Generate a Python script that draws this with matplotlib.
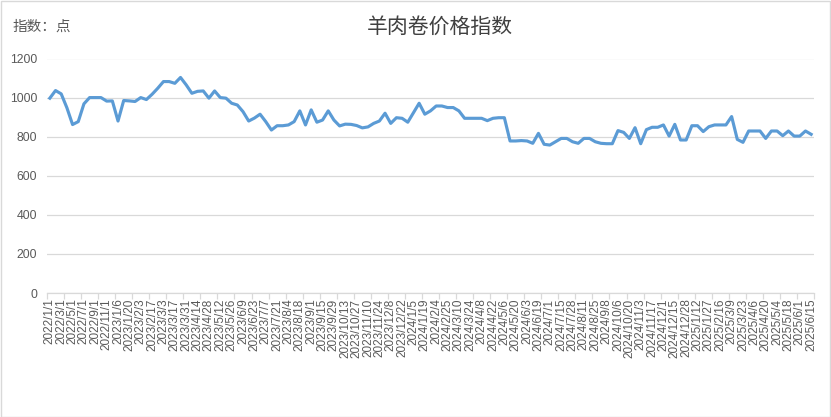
import matplotlib
matplotlib.use('Agg')
import matplotlib.pyplot as plt
from matplotlib.patches import Rectangle
import numpy as np

# Data
index_values = [
    997, 1036, 1019, 948, 862, 877, 968, 1000, 1000, 1000,
    982, 983, 880, 985, 983, 980, 1000, 990, 1017, 1048,
    1082, 1082, 1073, 1103, 1065, 1022, 1032, 1034, 997, 1034,
    1000, 997, 971, 962, 928, 880, 895, 915, 877, 834,
    856, 856, 860, 877, 932, 860, 937, 874, 885, 932,
    885, 855, 864, 863, 857, 845, 850, 868, 880, 920,
    868, 897, 894, 874, 922, 971, 915, 932, 957, 957,
    949, 949, 932, 894, 894, 894, 894, 882, 894, 897,
    897, 778, 778, 780, 778, 766, 817, 761, 757, 774,
    791, 791, 774, 766, 791, 791, 774, 766, 764, 764,
    831, 822, 791, 846, 764, 836, 848, 848, 860, 803,
    863, 783, 783, 856, 856, 826, 851, 860, 860, 860,
    903, 786, 771, 829, 829, 829, 791, 829, 829, 805,
    829, 803, 803, 829, 812,
]

# every second point carries a date label
tick_labels = [
    '2022/1/1', '2022/3/1', '2022/5/1', '2022/7/1', '2022/9/1', '2022/11/1',
    '2023/1/6', '2023/1/20', '2023/2/3', '2023/2/17', '2023/3/3', '2023/3/17',
    '2023/3/31', '2023/4/14', '2023/4/28', '2023/5/12', '2023/5/26', '2023/6/9',
    '2023/6/23', '2023/7/7', '2023/7/21', '2023/8/4', '2023/8/18', '2023/9/1',
    '2023/9/15', '2023/9/29', '2023/10/13', '2023/10/27', '2023/11/10', '2023/11/24',
    '2023/12/8', '2023/12/22', '2024/1/5', '2024/1/19', '2024/2/4', '2024/2/25',
    '2024/3/10', '2024/3/24', '2024/4/8', '2024/4/22', '2024/5/6', '2024/5/20',
    '2024/6/3', '2024/6/19', '2024/7/1', '2024/7/15', '2024/7/28', '2024/8/11',
    '2024/8/25', '2024/9/8', '2024/10/6', '2024/10/20', '2024/11/3', '2024/11/17',
    '2024/12/1', '2024/12/15', '2024/12/28', '2025/1/12', '2025/1/27', '2025/2/16',
    '2025/3/9', '2025/3/23', '2025/4/6', '2025/4/20', '2025/5/4', '2025/5/18',
    '2025/6/1', '2025/6/15',
]

y_ticks = [0, 200, 400, 600, 800, 1000, 1200]

title = '羊肉卷价格指数'
unit_label = '指数：点'

plt.rcParams['font.family'] = ['Liberation Sans', 'DejaVu Sans']
cjk = ['Noto Sans CJK SC', 'DejaVu Sans']

W, H = 831, 417
fig = plt.figure(figsize=(W / 100, H / 100), dpi=100)
fig.patch.set_facecolor('white')

ax = fig.add_axes([47 / W, 1 - 293 / H, (814 - 47) / W, (293 - 58.5) / H])
n = len(index_values)
x = np.arange(n)
ax.plot(x, index_values, color='#5B9BD5', linewidth=2.25, solid_joinstyle='round')

ax.set_xlim(-0.5, n - 0.5)
ax.set_ylim(0, 1200)
ax.set_yticks(y_ticks)
ax.set_yticklabels([str(v) for v in y_ticks])
ax.grid(axis='y', color='#d9d9d9', linewidth=0.9)
ax.set_axisbelow(True)

ax.set_xticks(x[::2])
ax.set_xticklabels(tick_labels, rotation=90, fontsize=8.5, color='#595959')
ax.set_xticks(np.arange(-0.5, n, 3), minor=True)
ax.tick_params(axis='x', which='major', length=0, pad=4)
ax.tick_params(axis='x', which='minor', length=4, color='#d9d9d9', width=0.9)
ax.tick_params(axis='y', length=0, pad=7, labelsize=8.8, labelcolor='#595959')

for s in ['top', 'right', 'left']:
    ax.spines[s].set_visible(False)
ax.spines['bottom'].set_color('#d9d9d9')
ax.spines['bottom'].set_linewidth(0.9)

fig.text(440 / W, 1 - 27 / H, title, family=cjk, fontsize=15, fontweight='medium',
         color='#404040', ha='center', va='center')
fig.text(13 / W, 1 - 27 / H, unit_label, family=cjk, fontsize=10.5, color='#595959',
         ha='left', va='center')

# chart border
fig.patches.append(Rectangle((0.5 / W, 0.5 / H), (W - 1.5) / W, (H - 1.5) / H,
                             transform=fig.transFigure, fill=False,
                             edgecolor='#d9d9d9', linewidth=1))

fig.savefig('out.png', dpi=100)
